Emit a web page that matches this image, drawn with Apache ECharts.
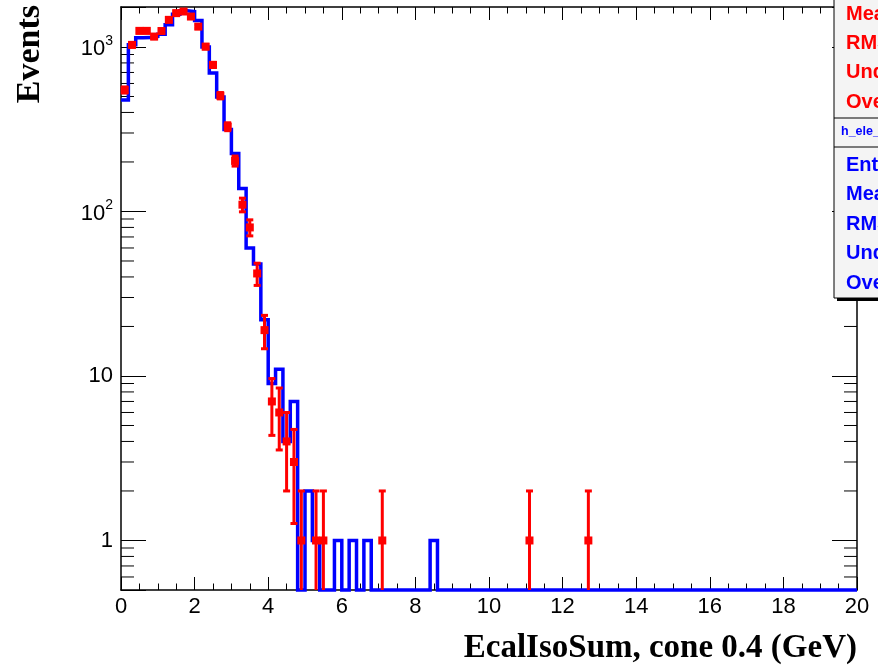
<!DOCTYPE html>
<html>
<head>
<meta charset="utf-8">
<script src="https://cdn.jsdelivr.net/npm/echarts@6/dist/echarts.min.js"></script>
<style>
  html, body { margin: 0; padding: 0; background: #ffffff; }
  #chart { width: 878px; height: 667px; }
</style>
</head>
<body>
<div id="chart"></div>
<script>
// Histogram range and binning (100 bins of 0.2 GeV)
const X_MIN = 0;
const X_MAX = 20;
const BIN_WIDTH = 0.2;
const Y_MIN = 0.5;
const Y_MAX = 1750;

// Simulation (blue line): content of each 0.2 GeV bin, from 0 to 20 GeV
const mcCounts = [
  476, 1030, 1136, 1140, 1157, 1197, 1363, 1580, 1660, 1640,
  1450, 1000, 695, 497, 315, 225, 138, 60, 48, 22,
  9, 11, 4, 7, 0, 2, 1, 0, 0, 1,
  0, 1, 0, 1, 0, 0, 0, 0, 0, 0,
  0, 0, 1, 0, 0, 0, 0, 0, 0, 0,
  0, 0, 0, 0, 0, 0, 0, 0, 0, 0,
  0, 0, 0, 0, 0, 0, 0, 0, 0, 0,
  0, 0, 0, 0, 0, 0, 0, 0, 0, 0,
  0, 0, 0, 0, 0, 0, 0, 0, 0, 0,
  0, 0, 0, 0, 0, 0, 0, 0, 0, 0
];

// Data (red points): centres and counts of the non-empty bins
const dataCenters = [
  0.1, 0.3, 0.5, 0.7, 0.9, 1.1, 1.3, 1.5, 1.7, 1.9,
  2.1, 2.3, 2.5, 2.7, 2.9, 3.1, 3.3, 3.5, 3.7, 3.9,
  4.1, 4.3, 4.5, 4.7, 4.9, 5.3, 5.5, 7.1, 11.1, 12.7
];
const dataCounts = [
  548, 1030, 1253, 1253, 1157, 1250, 1462, 1606, 1643, 1531,
  1330, 1005, 778, 506, 328, 203, 110, 80, 42, 19,
  7, 6, 4, 3, 1, 1, 1, 1, 1, 1
];

// Log-axis minor tick positions (2..9 x 10^n inside the range)
const yMinorTicks = [
  0.6, 0.7, 0.8, 0.9,
  2, 3, 4, 5, 6, 7, 8, 9,
  20, 30, 40, 50, 60, 70, 80, 90,
  200, 300, 400, 500, 600, 700, 800, 900
];

// Stats box rows
const statsRowsData = ['Mean', 'RMS', 'Underflow', 'Overflow'];
const statsTitleMc = 'h_ele_EcalIsoSum';
const statsRowsMc = ['Entries', 'Mean', 'RMS', 'Underflow', 'Overflow'];

const AXIS_FONT = '"Liberation Sans", Arial, sans-serif';
const TITLE_FONT = '"Liberation Serif", "Times New Roman", serif';

// Step outline of the simulated histogram: two points per bin
const stepPoints = [];
mcCounts.forEach((c, i) => {
  const lo = +(X_MIN + i * BIN_WIDTH).toFixed(1);
  const hi = +(X_MIN + (i + 1) * BIN_WIDTH).toFixed(1);
  const y = Math.max(c, Y_MIN);          // empty bins sit on the frame
  stepPoints.push([lo, y], [hi, y]);
});

const dataPoints = dataCenters.map((x, i) => [x, dataCounts[i], Math.sqrt(dataCounts[i])]);

function yLabel(v) {
  const l = Math.log10(v);
  const e = Math.round(l);
  if (Math.abs(l - e) > 1e-6) return '';
  if (e === 0) return '1';
  if (e === 1) return '10';
  return '{b|10}{s|' + e + '}';
}

const xAxisCommon = {
  type: 'value', min: X_MIN, max: X_MAX, interval: 2,
  axisLine: { show: true, onZero: false, lineStyle: { color: '#000', width: 1.5 } },
  axisTick: { show: true, inside: true, length: 13, lineStyle: { color: '#000', width: 1 } },
  minorTick: { show: true, splitNumber: 4, length: 6.5, lineStyle: { color: '#000', width: 1 } },
  splitLine: { show: false },
  minorSplitLine: { show: false }
};

const yAxisCommon = {
  type: 'log', logBase: 10, min: Y_MIN, max: Y_MAX,
  axisLine: { show: true, onZero: false, lineStyle: { color: '#000', width: 1.5 } },
  axisTick: { show: true, inside: true, length: 25, lineStyle: { color: '#000', width: 1 } },
  splitLine: { show: false },
  minorTick: { show: false },
  minorSplitLine: { show: false }
};

const chart = echarts.init(document.getElementById('chart'), null, { renderer: 'canvas' });

chart.setOption({
  animation: false,
  backgroundColor: '#ffffff',
  grid: {
    left: 121, right: 21, top: 7, bottom: 77,
    containLabel: false, outerBoundsMode: 'none'
  },
  xAxis: [
    Object.assign({}, xAxisCommon, {
      position: 'bottom',
      axisLabel: {
        show: true, margin: 6, color: '#000', fontSize: 22, fontFamily: AXIS_FONT,
        showMinLabel: true, showMaxLabel: true
      }
    }),
    Object.assign({}, xAxisCommon, {
      position: 'top',
      axisLabel: { show: false }
    })
  ],
  yAxis: [
    Object.assign({}, yAxisCommon, {
      position: 'left',
      axisLabel: {
        show: true, margin: 8, color: '#000', fontFamily: AXIS_FONT, fontSize: 22,
        formatter: yLabel,
        rich: {
          b: { fontSize: 22, fontFamily: AXIS_FONT, color: '#000', verticalAlign: 'bottom', lineHeight: 26 },
          s: { fontSize: 14, fontFamily: AXIS_FONT, color: '#000', verticalAlign: 'top', lineHeight: 26 }
        }
      }
    }),
    Object.assign({}, yAxisCommon, {
      position: 'right',
      axisLabel: { show: false }
    })
  ],
  series: [
    {
      // minor ticks of the logarithmic axes, left and right frame
      type: 'custom',
      xAxisIndex: 0, yAxisIndex: 0,
      silent: true, clip: false, z: 1,
      data: yMinorTicks.map(v => [X_MIN, v]),
      renderItem: (params, api) => {
        const v = api.value(1);
        const l = api.coord([X_MIN, v]);
        const r = api.coord([X_MAX, v]);
        return {
          type: 'group',
          children: [
            { type: 'line', shape: { x1: l[0], y1: l[1], x2: l[0] + 13, y2: l[1] },
              style: { stroke: '#000', lineWidth: 1 } },
            { type: 'line', shape: { x1: r[0], y1: r[1], x2: r[0] - 13, y2: r[1] },
              style: { stroke: '#000', lineWidth: 1 } }
          ]
        };
      }
    },
    {
      name: 'simulation',
      type: 'line',
      xAxisIndex: 0, yAxisIndex: 0,
      data: stepPoints,
      showSymbol: false,
      clip: false,
      z: 3,
      lineStyle: { color: '#0000ff', width: 3.5, join: 'miter' },
      itemStyle: { color: '#0000ff' }
    },
    {
      name: 'data',
      type: 'custom',
      xAxisIndex: 0, yAxisIndex: 0,
      clip: false,
      z: 4,
      data: dataPoints,
      renderItem: (params, api) => {
        const x = api.value(0);
        const y = api.value(1);
        const e = api.value(2);
        const p = api.coord([x, y]);
        const top = api.coord([x, y + e]);
        const lowClamped = (y - e) <= Y_MIN;
        const bot = api.coord([x, Math.max(y - e, Y_MIN)]);
        const red = '#ff0000';
        const children = [
          { type: 'line', shape: { x1: p[0], y1: top[1], x2: p[0], y2: bot[1] },
            style: { stroke: red, lineWidth: 3 } },
          { type: 'line', shape: { x1: p[0] - 3.5, y1: top[1], x2: p[0] + 3.5, y2: top[1] },
            style: { stroke: red, lineWidth: 3 } },
          { type: 'rect', shape: { x: p[0] - 4, y: p[1] - 4, width: 8, height: 8 },
            style: { fill: red } }
        ];
        if (!lowClamped) {
          children.push({ type: 'line', shape: { x1: p[0] - 3.5, y1: bot[1], x2: p[0] + 3.5, y2: bot[1] },
            style: { stroke: red, lineWidth: 3 } });
        }
        return { type: 'group', children: children };
      }
    }
  ],
  graphic: [
    // axis titles
    {
      type: 'text', x: 857, y: 648, z: 50,
      style: {
        text: 'EcalIsoSum, cone 0.4 (GeV)', fill: '#000',
        font: 'bold 33px ' + TITLE_FONT,
        align: 'right', verticalAlign: 'middle',
        textAlign: 'right', textVerticalAlign: 'middle'
      }
    },
    {
      type: 'text', x: 30, y: 5, rotation: Math.PI / 2, z: 50,
      style: {
        text: 'Events', fill: '#000',
        font: 'bold 34px ' + TITLE_FONT,
        align: 'right', verticalAlign: 'middle',
        textAlign: 'right', textVerticalAlign: 'middle'
      }
    },
    // statistics boxes
    { type: 'rect', z: 100, shape: { x: 837, y: -10, width: 60, height: 311 }, style: { fill: '#000' } },
    { type: 'rect', z: 101, shape: { x: 834, y: -10, width: 60, height: 308 },
      style: { fill: '#f4f4f4', stroke: '#000', lineWidth: 1 } },
    { type: 'line', z: 102, shape: { x1: 834, y1: 118, x2: 878, y2: 118 }, style: { stroke: '#000', lineWidth: 1 } },
    { type: 'line', z: 102, shape: { x1: 834, y1: 147, x2: 878, y2: 147 }, style: { stroke: '#000', lineWidth: 1 } },
    ...statsRowsData.map((t, i) => ({
      type: 'text', z: 103, x: 846, y: 14 + i * 29.4,
      style: { text: t, fill: '#ff0000', font: 'bold 20px ' + AXIS_FONT,
               align: 'left', verticalAlign: 'middle', textAlign: 'left', textVerticalAlign: 'middle' }
    })),
    {
      type: 'text', z: 103, x: 841, y: 132,
      style: { text: statsTitleMc, fill: '#0000ff', font: 'bold 12.5px ' + AXIS_FONT,
               align: 'left', verticalAlign: 'middle', textAlign: 'left', textVerticalAlign: 'middle' }
    },
    ...statsRowsMc.map((t, i) => ({
      type: 'text', z: 103, x: 846, y: 165 + i * 29.6,
      style: { text: t, fill: '#0000ff', font: 'bold 20px ' + AXIS_FONT,
               align: 'left', verticalAlign: 'middle', textAlign: 'left', textVerticalAlign: 'middle' }
    }))
  ]
});
</script>
</body>
</html>
